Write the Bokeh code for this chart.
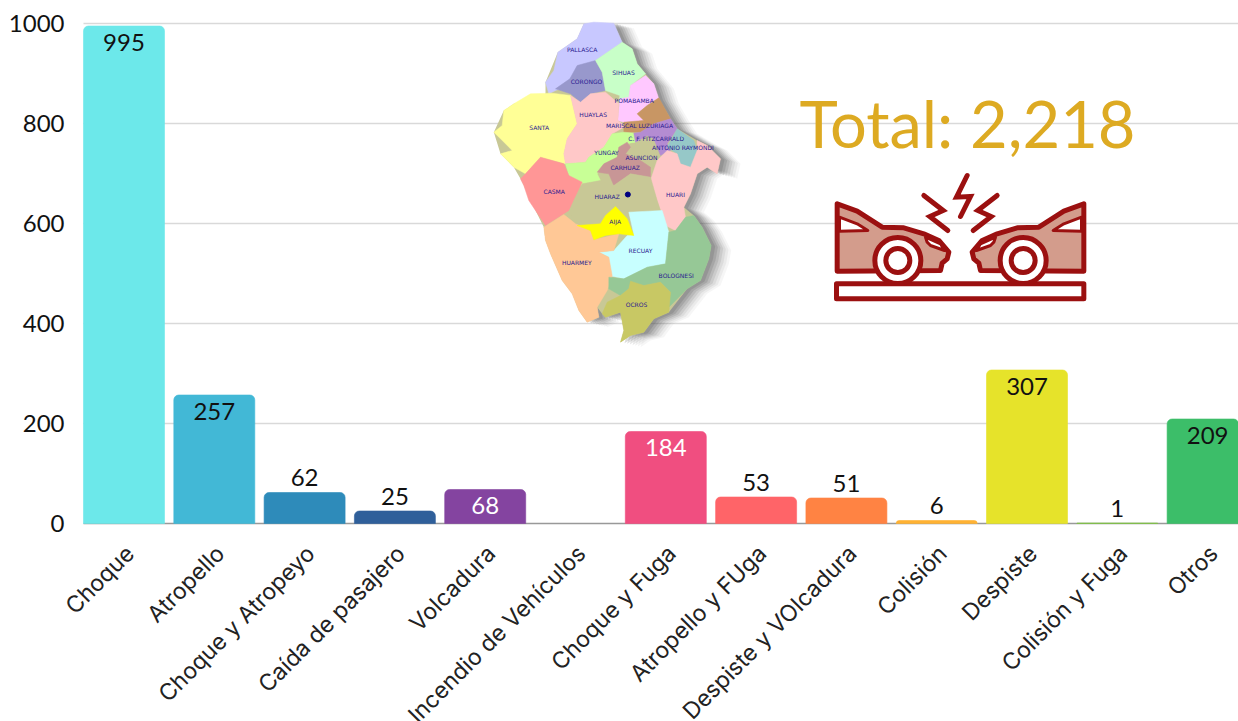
from math import pi
from bokeh.plotting import figure
from bokeh.models import Range1d, FixedTicker, ColumnDataSource
from bokeh.core.properties import value
from bokeh.embed import file_html
from bokeh.resources import INLINE

categories = ["Choque", "Atropello", "Choque y Atropeyo", "Caída de pasajero", "Volcadura",
              "Incendio de Vehículos", "Choque y Fuga", "Atropello y FUga", "Despiste y VOlcadura",
              "Colisión", "Despiste", "Colisión y Fuga", "Otros"]
counts = [995, 257, 62, 25, 68, 0, 184, 53, 51, 6, 307, 1, 209]
count_labels = ["995", "257", "62", "25", "68", "", "184", "53", "51", "6", "307", "1", "209"]
bar_colors = ["#6CE8EA", "#42B8D6", "#2E8BBA", "#2F5F9A", "#8444A0", "#999999", "#F04E80",
              "#FF6468", "#FF8343", "#FFB233", "#E6E32A", "#7DC242", "#3CBE69"]
label_inside = [True, True, False, False, True, False, True, False, False, False, True, False, True]
label_colors = ["#111111", "#111111", "#111111", "#111111", "#FFFFFF", "#111111", "#FFFFFF",
                "#111111", "#111111", "#111111", "#111111", "#111111", "#111111"]
y_ticks = [0, 200, 400, 600, 800, 1000]
total_label = "Total: 2,218"

FONT = "Lato"
CAT_FONT = "Inter"

provinces = [
    ("#C8C8FF", [(310,40),(340,35),(400,38),(425,95),(345,150),(285,190),(268,225),(225,240),(205,250),(195,215),(220,180),(232,125),(290,85)]),
    ("#9898CC", [(225,235),(268,205),(290,165),(345,150),(365,185),(375,240),(330,250),(300,275),(270,250)]),
    ("#C8FFC8", [(345,150),(425,95),(455,115),(470,160),(495,190),(450,225),(445,262),(415,280),(418,255),(375,240),(365,185)]),
    ("#FFC8FF", [(495,195),(520,220),(535,265),(500,285),(470,310),(490,330),(430,335),(412,330),(418,265),(445,260),(450,225)]),
    ("#C89664", [(535,262),(570,325),(520,340),(480,365),(430,365),(430,335),(490,330),(470,310),(500,285)]),
    ("#FFFF96", [(100,280),(150,250),(215,248),(270,255),(290,340),(260,385),(250,430),(255,460),(180,440),(135,490),(100,470),(60,430),(95,420),(60,385),(40,365),(65,345),(70,300)]),
    ("#FFC8C8", [(270,255),(300,275),(330,250),(375,245),(415,280),(412,330),(425,340),(430,350),(395,370),(370,410),(325,440),(315,455),(255,460),(250,430),(260,385),(290,340)]),
    ("#C8FF96", [(430,365),(460,368),(465,395),(440,400),(415,410),(410,440),(360,480),(350,490),(360,510),(300,525),(265,495),(255,460),(315,455),(325,440),(370,410),(395,370)]),
    ("#C8C896", [(465,400),(500,375),(520,385),(550,430),(530,465),(510,470),(480,450),(440,430),(450,400)]),
    ("#B48CD2", [(570,325),(590,355),(560,400),(570,420),(540,435),(520,385),(500,375),(465,395),(460,368),(480,365),(520,340)]),
    ("#96C8C8", [(590,355),(640,390),(650,420),(630,470),(600,460),(590,430),(560,410)]),
    ("#C89696", [(415,410),(440,395),(450,410),(435,430),(480,450),(510,470),(510,500),(450,490),(400,525),(385,490),(350,485),(370,460),(410,440)]),
    ("#FFC8C8", [(650,390),(680,405),(720,445),(710,490),(680,470),(650,490),(630,550),(610,590),(615,620),(585,660),(545,640),(540,600),(530,570),(510,510),(530,450),(560,420),(590,430),(600,460),(630,470),(650,420)]),
    ("#FF9696", [(180,440),(250,460),(265,495),(305,515),(280,570),(265,600),(195,645),(165,600),(145,570),(130,525),(120,505),(135,490)]),
    ("#C8C896", [(305,520),(360,510),(400,525),(450,490),(510,500),(530,570),(540,600),(440,605),(410,590),(370,615),(345,640),(290,640),(265,605),(280,570)]),
    ("#C8FFFF", [(445,605),(545,600),(565,665),(555,760),(500,770),(430,805),(385,795),(385,740),(355,725),(400,720),(440,675),(460,672)]),
    ("#FFC896", [(190,650),(250,612),(285,640),(330,660),(340,688),(415,670),(400,720),(355,725),(385,740),(395,795),(380,840),(350,890),(355,920),(320,935),(295,900),(275,850),(245,810),(210,730),(195,690)]),
    ("#FFFF00", [(405,588),(440,625),(460,675),(415,670),(375,675),(340,688),(330,660),(290,645),(360,640),(375,615)]),
    ("#96C896", [(640,615),(665,650),(692,705),(685,745),(660,810),(620,835),(565,890),(570,845),(540,815),(490,825),(450,815),(445,835),(420,855),(385,835),(385,800),(430,805),(500,770),(555,760),(565,665),(585,660),(615,620)]),
    ("#C8C864", [(450,812),(490,825),(540,815),(570,845),(565,905),(520,925),(490,965),(450,975),(420,995),(430,960),(420,905),(375,920),(365,910),(380,875),(420,855),(445,835)]),
]
silhouette = [(310,40),(400,38),(425,95),(455,115),(470,160),(495,190),(520,220),(535,265),(570,325),(590,355),(650,390),(680,405),(720,445),(710,490),(680,470),(650,490),(630,550),(610,590),(640,615),(665,650),(692,705),(685,745),(660,810),(620,835),(565,905),(520,925),(490,965),(450,975),(420,995),(430,960),(420,905),(375,920),(365,910),(350,890),(355,920),(320,935),(295,900),(275,850),(245,810),(210,730),(195,690),(190,650),(165,600),(130,525),(120,505),(100,470),(60,430),(40,365),(70,300),(100,280),(195,250),(195,215),(232,125),(290,85)]
map_names = ["PALLASCA", "CORONGO", "SIHUAS", "POMABAMBA", "HUAYLAS", "SANTA", "MARISCAL LUZURIAGA", "C. F. FITZCARRALD",
             "ANTONIO RAYMONDI", "YUNGAY", "ASUNCION", "CARHUAZ", "CASMA", "HUARAZ", "HUARI", "AIJA", "RECUAY", "HUARMEY", "BOLOGNESI", "OCROS"]
map_name_pos = [(305,118),(318,214),(429,186),(461,271),(338,313),(176,350),(477,344),(527,383),(607,412),(378,425),(483,440),(434,471),(221,544),(380,559),(585,552),(404,632),(480,721),(289,756),(587,796),(468,882)]

def mp(pts):
    return [480 + a / 3 for a, _ in pts], [10 + b / 3 for _, b in pts]

def ic(pts, mirror=False):
    return [790 + ((1020 - a) if mirror else a) / 3 for a, _ in pts], [80 + b / 3 for _, b in pts]

car_body = [(140,370),(200,392),(275,440),(340,442),(400,460),(445,480),(475,515),(470,535),(455,548),(450,570),(140,572)]
car_window = [(147,410),(200,430),(232,450),(147,452)]
car_lamp = [(405,470),(450,490),(462,510),(420,495),(410,485)]
bolt_mid = [(530,285),(498,350),(540,348),(510,408)]
bolt_side = [(400,345),(458,390),(418,408),(472,450)]
ground = [(138,610),(880,610),(880,655),(138,655)]
wheel = [(322,540)]

X_START, X_END = -0.6589, 12.342
p = figure(width=1238, height=721, output_backend="svg", toolbar_location=None,
           x_range=Range1d(X_START, X_END), y_range=Range1d(-396, 1046),
           min_border_left=64, min_border_right=0, min_border_top=0, min_border_bottom=0,
           x_axis_location=None, y_axis_location="left")
p.outline_line_color = None
p.background_fill_color = "#FFFFFF"
p.border_fill_color = "#FFFFFF"
p.xgrid.visible = False
p.ygrid.visible = False

ax = p.yaxis[0]
ax.ticker = FixedTicker(ticks=y_ticks)
ax.axis_line_color = None
ax.major_tick_line_color = None
ax.minor_tick_line_color = None
ax.major_tick_out = 0
ax.major_label_text_font = FONT
ax.major_label_text_font_size = "24px"
ax.major_label_text_color = "#111111"
ax.major_label_standoff = 0

idx = list(range(len(categories)))
bar_half = 0.897 / 2
p.segment(x0=[-bar_half] * len(y_ticks), x1=[X_END] * len(y_ticks), y0=y_ticks, y1=y_ticks,
          line_color=["#999999"] + ["#D9D9D9"] * (len(y_ticks) - 1), line_width=1.3)

p.extra_x_ranges = {"px": Range1d(64, 1238)}
p.extra_y_ranges = {"px": Range1d(721, 0)}
px = dict(x_range_name="px", y_range_name="px")

for off, alpha in [(60, 0.05), (52, 0.07), (44, 0.09), (36, 0.12), (28, 0.15), (20, 0.18), (12, 0.2)]:
    xs, ys = mp([(a + off, b + off * 0.25) for a, b in silhouette])
    p.patch(xs, ys, fill_color="#555555", fill_alpha=alpha, line_color=None, **px)
xs, ys = mp(silhouette)
p.patch(xs, ys, fill_color="#C8C896", line_color=None, **px)
for color, pts in provinces:
    xs, ys = mp(pts)
    p.patch(xs, ys, fill_color=color, line_color=color, line_width=0.5, **px)
nx, ny = mp(map_name_pos)
p.text(nx, ny, text=map_names, text_font=value("DejaVu Sans"), text_font_size="6px",
       text_color="#2A1A90", text_align="center", text_baseline="middle", **px)
dx, dy = mp([(442, 552)])
p.scatter(dx, dy, size=5, color="#00007F", **px)

p.text([967], [122], text=[total_label], text_font=value(FONT), text_font_size="65px",
       text_color="#DDAA22", text_align="center", text_baseline="middle", **px)

RED = "#9B1010"
gx, gy = ic(ground)
p.patch(gx, gy, fill_color="#FFFFFF", line_color=RED, line_width=5, line_join="round", **px)
for mirror in (False, True):
    xs, ys = ic(car_body, mirror)
    p.patch(xs, ys, fill_color="#D39C8C", line_color=RED, line_width=5, line_join="round", **px)
    xs, ys = ic(car_window, mirror)
    p.patch(xs, ys, fill_color="#FFFFFF", line_color=RED, line_width=3, line_join="round", **px)
    xs, ys = ic(car_lamp, mirror)
    p.patch(xs, ys, fill_color="#FFFFFF", line_color=RED, line_width=3, line_join="round", **px)
    xs, ys = ic(wheel, mirror)
    p.scatter(xs, ys, size=46, fill_color="#FFFFFF", line_color=RED, line_width=5, **px)
    p.scatter(xs, ys, size=24, fill_color="#FFFFFF", line_color=RED, line_width=5, **px)
    xs, ys = ic(bolt_side, mirror)
    p.line(xs, ys, line_color=RED, line_width=5, line_cap="round", line_join="miter", **px)
xs, ys = ic(bolt_mid)
p.line(xs, ys, line_color=RED, line_width=5, line_cap="round", line_join="miter", **px)

src = ColumnDataSource(dict(x=idx, top=counts, base=[0] * len(idx), color=bar_colors, name=categories,
                            lab=count_labels, lab_color=label_colors,
                            off=[16 if inside else -15 for inside in label_inside]))
p.vbar(x="x", top="top", bottom=0, width=0.897, fill_color="color", line_color="color", line_width=0.6,
       border_radius=(5, 5, 0, 0), source=src)
p.text(x="x", y="top", text="lab", y_offset="off", text_color="lab_color", text_font=value(FONT),
       text_font_size="24px", text_align="center", text_baseline="middle", source=src)
p.text(x="x", y="base", text="name", angle=pi / 4, x_offset=6, y_offset=26, text_align="right",
       text_baseline="middle", text_font=value(CAT_FONT), text_font_size="23px", text_color="#222222",
       source=src)

open("out.html", "w").write(file_html(p, INLINE))
